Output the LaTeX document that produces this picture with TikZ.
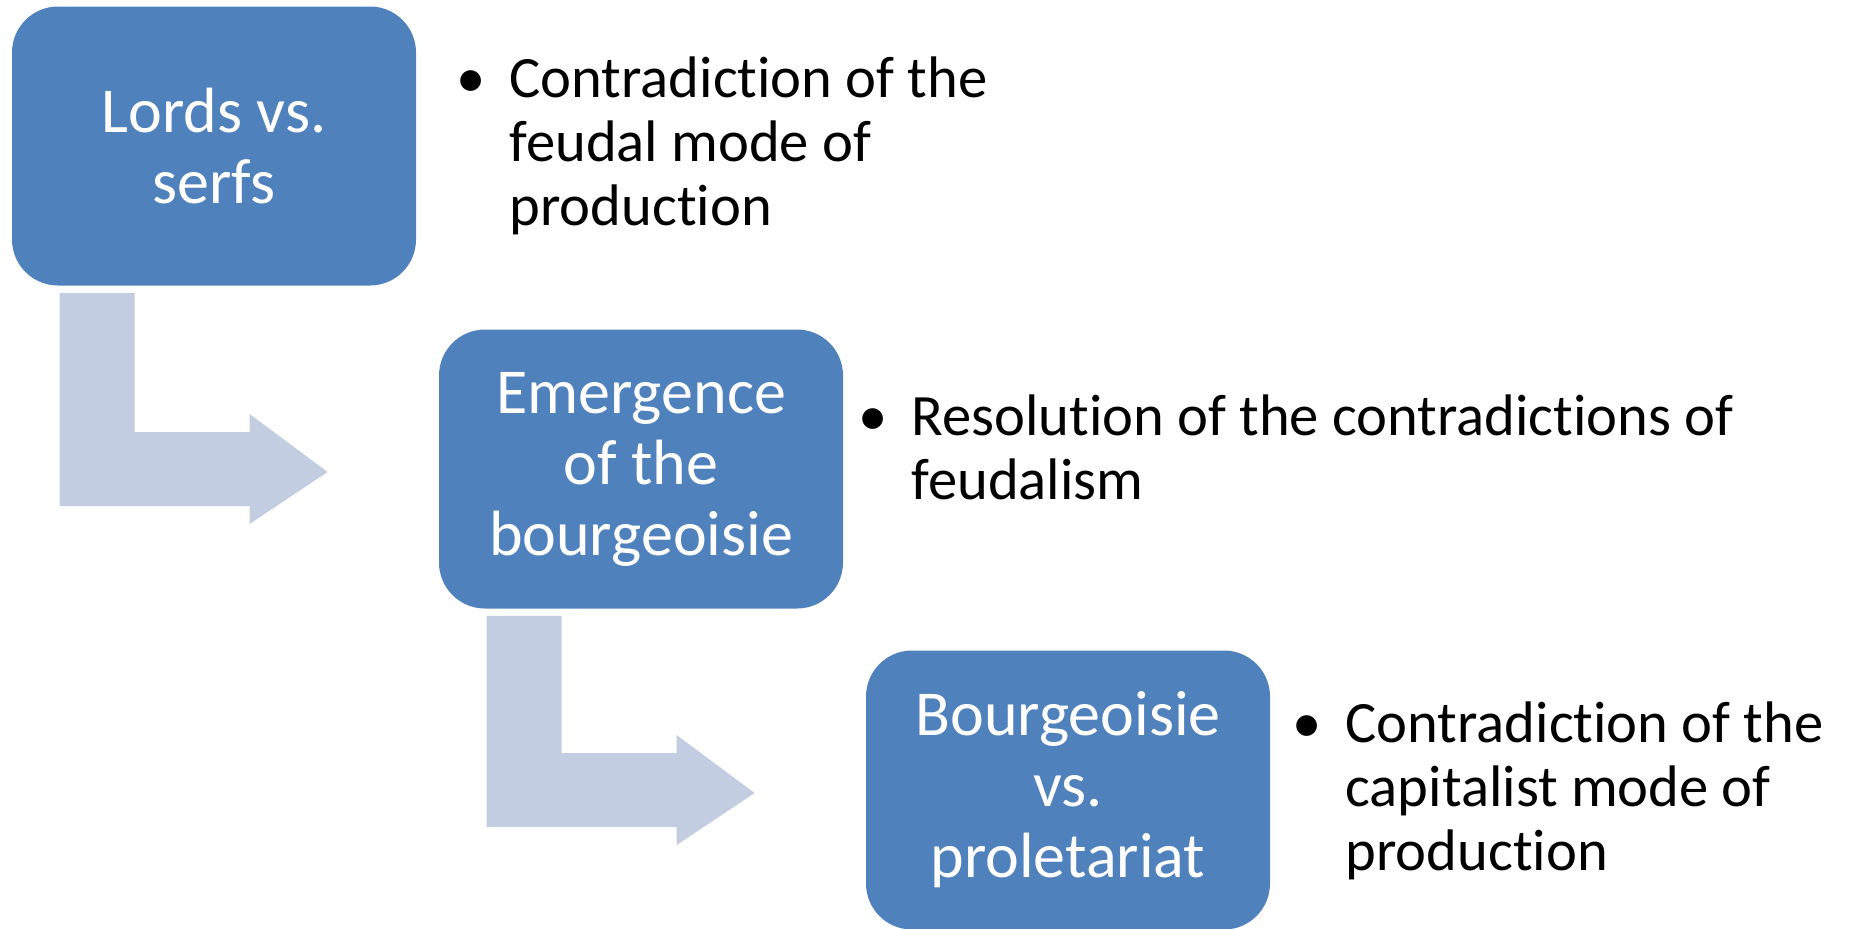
\documentclass[tikz,border=0pt]{standalone}
\usepackage{fontspec}
\setmainfont{Carlito}[Ligatures=NoCommon]
\usetikzlibrary{calc}

\definecolor{boxblue}{RGB}{79,129,189}
\definecolor{arrowgrey}{RGB}{194,205,226}

\tikzset{
	stagebox/.style={fill=boxblue, draw=none, rounded corners=23pt, minimum width=202pt, minimum height=139.5pt,
		align=center, text=white, inner sep=0pt, font=\fontsize{32}{35.5}\selectfont},
	notetext/.style={anchor=base west, inner sep=0pt, font=\fontsize{29.3}{32}\selectfont},
	bentarrow/.style={fill=arrowgrey, draw=none}
}
\newcommand{\notelines}[1]{\begin{tabular}[t]{@{}l@{\hspace{12pt}}l@{}}#1\end{tabular}}

\begin{document}
\begin{tikzpicture}[x=0.5pt,y=-0.5pt]
			\useasboundingbox (0,0) rectangle (1852,928);
			% stages
			\node [stagebox] (lords) at (214,146) {Lords vs.\\serfs};
			\node [stagebox] (emerge) at ($(lords)+(427,323)$) {Emergence\\of the\\bourgeoisie};
			\node [stagebox] (capital) at ($(emerge)+(427,321)$) {Bourgeoisie\\vs.\\proletariat};
			% bullets
			\node [notetext] (lordsnote) at (456,97) {\notelines{\textbullet & Contradiction of the\\ & feudal mode of\\ & production}};
			\node [notetext] (emergenote) at (858,435) {\notelines{\textbullet & Resolution of the contradictions of\\ & feudalism}};
			\node [notetext] (capitalnote) at (1292,742) {\notelines{\textbullet & Contradiction of the\\ & capitalist mode of\\ & production}};
			% bent arrows
			\fill [bentarrow] ($(lords.south west)+(48,7)$) coordinate (a1) -- ($(lords.south west)+(123,7)$) |- ($(emerge.west)+(-189,-37)$) -- ++(0,-18) -- ($(emerge.west)+(-111,3)$) -- ($(emerge.west)+(-189,55)$) -- ++(0,-18) -| (a1) -- cycle;
			\fill [bentarrow] ($(emerge.south west)+(48,7)$) coordinate (a2) -- ($(emerge.south west)+(123,7)$) |- ($(capital.west)+(-189,-37)$) -- ++(0,-18) -- ($(capital.west)+(-111,3)$) -- ($(capital.west)+(-189,55)$) -- ++(0,-18) -| (a2) -- cycle;
		\end{tikzpicture}
\end{document}
